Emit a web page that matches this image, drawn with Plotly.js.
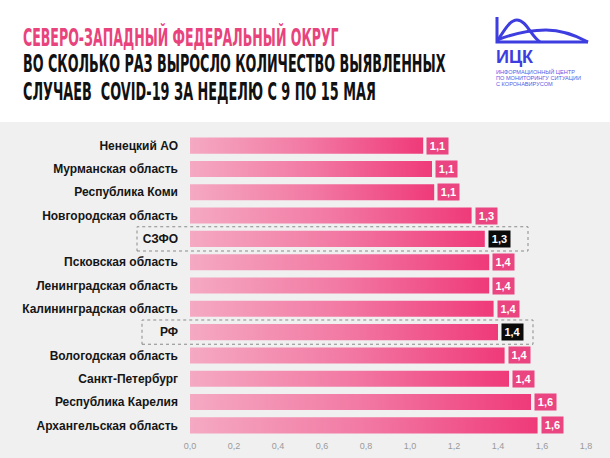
<!DOCTYPE html>
<html><head><meta charset="utf-8">
<script src="https://cdn.plot.ly/plotly-3.0.1.min.js"></script>
<style>html,body{margin:0;padding:0;background:#fff;} #chart{width:610px;height:458px;}</style>
</head><body><div id="chart"></div>
<script>
// ---- data ----
const regions = ["Ненецкий АО","Мурманская область","Республика Коми","Новгородская область","СЗФО","Псковская область","Ленинградская область","Калининградская область","РФ","Вологодская область","Санкт-Петербург","Республика Карелия","Архангельская область"];
const growth = [1.06,1.10,1.11,1.28,1.34,1.36,1.36,1.38,1.40,1.43,1.45,1.55,1.58];
const growthLabels = ["1,1","1,1","1,1","1,3","1,3","1,4","1,4","1,4","1,4","1,4","1,4","1,6","1,6"];
const highlighted = ["СЗФО","РФ"];
const xTickVals = [0,0.2,0.4,0.6,0.8,1.0,1.2,1.4,1.6,1.8];
const xTickText = ["0,0","0,2","0,4","0,6","0,8","1,0","1,2","1,4","1,6","1,8"];
const titleLines = ["СЕВЕРО-ЗАПАДНЫЙ ФЕДЕРАЛЬНЫЙ ОКРУГ","ВО СКОЛЬКО РАЗ ВЫРОСЛО КОЛИЧЕСТВО ВЫЯВЛЕННЫХ","СЛУЧАЕВ  COVID-19 ЗА НЕДЕЛЮ С 9 ПО 15 МАЯ"];
const logoName = "ИЦК";
const logoCaption = ["ИНФОРМАЦИОННЫЙ ЦЕНТР","ПО МОНИТОРИНГУ СИТУАЦИИ","С КОРОНАВИРУСОМ"];

// ---- layout geometry (style) ----
const W=610,H=458, M={l:190,r:2,t:134,b:21};
const PW=W-M.l-M.r, PH=H-M.t-M.b;
const px2x = p => (p-M.l)/PW;
const px2y = p => (H-M.b-p)/PH;
const n = regions.length;
const rowY = (i, off) => 1-(i+0.5+off)/n;

const titleStyle = [
  {y:38, color:'#e8437c', len:316},
  {y:64.5, color:'#111111', len:423},
  {y:91.5, color:'#111111', len:353}
];
const captionY = [71.8, 77.9, 84.0];
const hlBoxes = {"СЗФО":{l:137,r:528},"РФ":{l:142,r:533}};
const BLUE='#3d3de0';

const shapes = [];
shapes.push({type:'rect',xref:'paper',yref:'paper',x0:px2x(0),x1:px2x(W),y0:px2y(122),y1:px2y(H+2),fillcolor:'#f0f0f0',line:{width:0},layer:'below'});
highlighted.forEach(h=>{
  const i = regions.indexOf(h);
  shapes.push({type:'rect',xref:'paper',yref:'paper',x0:px2x(hlBoxes[h].l),x1:px2x(hlBoxes[h].r),
    y0:rowY(i,0.52),y1:rowY(i,-0.52),line:{color:'#8a8a8a',width:1,dash:'dot'},fillcolor:'rgba(0,0,0,0)'});
});
// logo curves
const P = (pts)=>pts.map(s=>{
  if(typeof s==='string') return s;
  return px2x(s[0]).toFixed(5)+','+px2y(s[1]).toFixed(5);
}).join(' ');
const logoPaths = [
  P(['M',[497,17],'L',[497,42],'L',[588,42]]),
  P(['M',[497,41],'C',[503,33],[509,20],[517,20],'C',[526,20],[531,36],[540,42]]),
  P(['M',[497,40],'C',[515,33],[530,30],[546,30],'C',[562,30],[575,35],[588,42]])
];
logoPaths.forEach(p=>shapes.push({type:'path',xref:'paper',yref:'paper',path:p,line:{color:BLUE,width:3}}));

const annotations = [];
titleLines.forEach((t,k)=>annotations.push({xref:'paper',yref:'paper',x:px2x(21),y:px2y(titleStyle[k].y),
  xanchor:'left',yanchor:'middle',align:'left',showarrow:false,text:'<b>'+t+'</b>',
  font:{family:'Liberation Sans Narrow, DejaVu Sans Condensed, Liberation Sans',size:24,color:titleStyle[k].color}}));
annotations.push({xref:'paper',yref:'paper',x:px2x(494),y:px2y(56.5),xanchor:'left',yanchor:'middle',showarrow:false,
  text:'<b>'+logoName+'</b>',font:{family:'Liberation Sans, Arial',size:18,color:BLUE}});
logoCaption.forEach((c,k)=>annotations.push({xref:'paper',yref:'paper',x:px2x(494),y:px2y(captionY[k]),xanchor:'left',yanchor:'middle',align:'left',showarrow:false,
  text:c,font:{family:'Liberation Sans, Arial',size:5.6,color:'#5a5ae6'}}));
regions.forEach((r,i)=>annotations.push({x:growth[i],y:r,xref:'x',yref:'y',text:'<b>'+growthLabels[i]+'</b>',
  showarrow:false,xanchor:'left',yanchor:'middle',xshift:3,width:17,height:12,borderpad:2,
  bgcolor: highlighted.includes(r)?'#0b0b0b':'#ea4580',
  font:{family:'Liberation Sans, Arial',size:11,color:'#ffffff'}}));

const data = [{type:'bar',orientation:'h',y:regions,x:growth,marker:{color:'#f06a97',line:{width:0}},hoverinfo:'skip'}];

const layout = {
  width:W,height:H,margin:M,paper_bgcolor:'#ffffff',plot_bgcolor:'rgba(0,0,0,0)',
  showlegend:false,bargap:0.31,
  xaxis:{range:[0,1.9],tickvals:xTickVals,ticktext:xTickText,showgrid:false,zeroline:false,showline:false,ticks:'',
    ticklabelstandoff:2,tickfont:{family:'Liberation Sans, Arial',size:9,color:'#9a9a9a'}},
  yaxis:{type:'category',categoryorder:'array',categoryarray:regions,range:[n-0.5,-0.5],showgrid:false,zeroline:false,
    showline:false,ticks:'',ticklabelstandoff:11,
    tickfont:{family:'Liberation Sans, Arial',size:12,color:'#151515',weight:'bold'}},
  shapes:shapes,annotations:annotations
};

Plotly.newPlot('chart',data,layout,{staticPlot:true,displayModeBar:false}).then(gd=>{
  const ns='http://www.w3.org/2000/svg';
  const svg = gd.querySelector('svg.main-svg');
  let defs = svg.querySelector('defs');
  if(!defs){defs=document.createElementNS(ns,'defs');svg.insertBefore(defs,svg.firstChild);}
  const lg=document.createElementNS(ns,'linearGradient');
  lg.setAttribute('id','barGrad');lg.setAttribute('x1','0');lg.setAttribute('y1','0');lg.setAttribute('x2','1');lg.setAttribute('y2','0');
  [['0','#f5a9c3'],['0.5','#f279a3'],['1','#ef3a79']].forEach(s=>{
    const st=document.createElementNS(ns,'stop');st.setAttribute('offset',s[0]);st.setAttribute('stop-color',s[1]);lg.appendChild(st);
  });
  defs.appendChild(lg);
  gd.querySelectorAll('.trace.bars .point path').forEach(p=>{p.style.fill='url(#barGrad)';});
  // horizontally condense title lines to the reference widths
  titleStyle.forEach((s,k)=>{
    const g = gd.querySelector('g.annotation[data-index="'+k+'"]');
    if(!g) return;
    const t = g.querySelector('text.annotation-text');
    const bb = t.getBBox();
    const sx = s.len / bb.width;
    const X = bb.x;
    t.setAttribute('transform','translate('+X+',0) scale('+sx+',1) translate('+(-X)+',0)');
    const bg = g.querySelector('rect.bg');
    if(bg){ bg.setAttribute('width', s.len); }
  });
});
</script></body></html>
